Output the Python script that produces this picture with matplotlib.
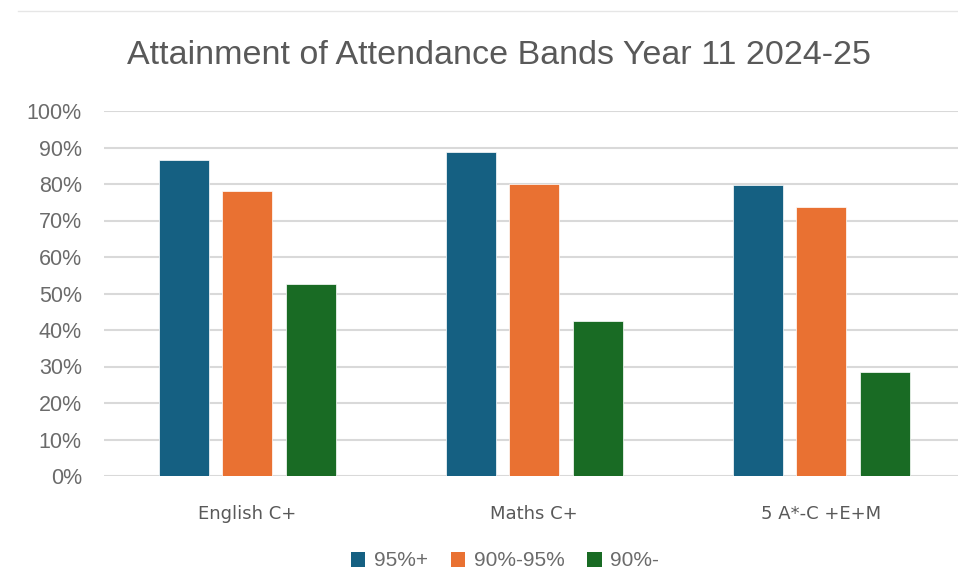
import matplotlib
matplotlib.use("Agg")
import matplotlib.pyplot as plt
import numpy as np
from matplotlib.ticker import PercentFormatter
from matplotlib.lines import Line2D
from matplotlib.patches import Patch
from matplotlib import font_manager

categories = ["English C+", "Maths C+", "5 A*-C +E+M"]
series_names = ["95%+", "90%-95%", "90%-"]
band_95_plus = [0.866, 0.888, 0.798]
band_90_95 = [0.780, 0.801, 0.736]
band_90_minus = [0.526, 0.425, 0.284]
colors = ["#156082", "#E97132", "#196B24"]
yticks = [0, 0.1, 0.2, 0.3, 0.4, 0.5, 0.6, 0.7, 0.8, 0.9, 1.0]

W, H = 958, 571
fig = plt.figure(figsize=(W / 100, H / 100), dpi=100)
ax = fig.add_axes([104 / W, 1 - 476 / H, 1 - 104 / W, (476 - 111) / H])

x = np.arange(len(categories))
offset = 0.2213
width = 0.174
for i, (vals, name) in enumerate(zip([band_95_plus, band_90_95, band_90_minus], series_names)):
    ax.bar(x + (i - 1) * offset, vals, width, color=colors[i], label=name,
           edgecolor="white", linewidth=0.5, zorder=3)

ax.set_xlim(-0.5, 2.477)
ax.set_ylim(0, 1.0)
ax.set_yticks(yticks)
ax.yaxis.set_major_formatter(PercentFormatter(1.0, decimals=0))
ax.set_xticks(x)
ax.set_xticklabels(categories, fontsize=13, color="#595959", family="DejaVu Sans")
for lab in ax.get_yticklabels():
    lab.set_fontsize(15.5)
    lab.set_family("Liberation Sans")
    lab.set_color("#6b6b6b")
ax.tick_params(axis="both", length=0)
ax.tick_params(axis="y", pad=16)
ax.tick_params(axis="x", pad=21)
ax.grid(axis="y", color="#d9d9d9", linewidth=1.5, zorder=0)
for s in ax.spines.values():
    s.set_visible(False)

fig.text(499 / W, 1 - 56 / H, "Attainment of Attendance Bands Year 11 2024-25",
         ha="center", va="center", fontsize=24.5, color="#595959", family="Liberation Sans")

fig.add_artist(Line2D([18 / W, 1], [1 - 11 / H, 1 - 11 / H], color="#e6e6e6", linewidth=1,
                      transform=fig.transFigure))

handles = [Patch(facecolor=c, edgecolor="none") for c in colors]
fig.legend(handles, series_names, loc="center", bbox_to_anchor=(505 / W, 1 - 561 / H),
           ncol=3, frameon=False, prop={"family": "Liberation Sans", "size": 15},
           labelcolor="#6b6b6b", handlelength=0.7, handleheight=0.7, handletextpad=0.4,
           columnspacing=1.1)

fig.savefig("out.png", dpi=100)
